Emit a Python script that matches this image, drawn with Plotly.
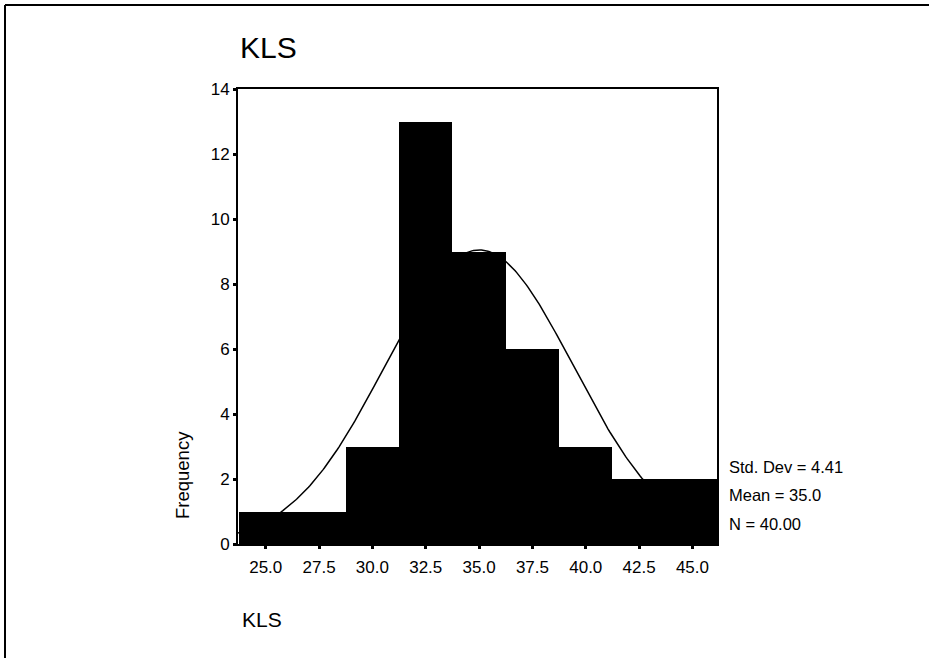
import numpy as np
import plotly.graph_objects as go

# ---- data ----
bin_centers = [25.0, 27.5, 30.0, 32.5, 35.0, 37.5, 40.0, 42.5, 45.0]
frequencies = [1, 1, 3, 13, 9, 6, 3, 2, 2]
bin_width = 2.5
x_tick_vals = [25.0, 27.5, 30.0, 32.5, 35.0, 37.5, 40.0, 42.5, 45.0]
x_tick_text = ["25.0", "27.5", "30.0", "32.5", "35.0", "37.5", "40.0", "42.5", "45.0"]
y_tick_vals = [0, 2, 4, 6, 8, 10, 12, 14]
stat_std = 4.41
stat_mean = 35.0
stat_n = 40
stats_lines = ["Std. Dev = 4.41", "Mean = 35.0", "N = 40.00"]
title_text = "KLS"
x_label = "KLS"
y_label = "Frequency"

FONT = "Arial, 'Liberation Sans', sans-serif"

# fitted normal curve (from displayed mean / sd / N)
xs = np.linspace(23.7, 46.15, 300)
ys = stat_n * bin_width * np.exp(-0.5 * ((xs - stat_mean) / stat_std) ** 2) / (stat_std * np.sqrt(2 * np.pi))

fig = go.Figure()
fig.add_trace(go.Bar(x=bin_centers, y=frequencies, width=bin_width,
                     marker=dict(color="black", line=dict(width=0)),
                     showlegend=False, hoverinfo="x+y"))
fig.add_trace(go.Scatter(x=xs, y=ys, mode="lines",
                         line=dict(color="black", width=1.5),
                         showlegend=False, hoverinfo="skip"))

L, R, T, B = 238, 212, 89, 114
W, H = 929, 658
pw, ph = W - L - R, H - T - B

def px(x):
    return (x - L) / pw

def py(y):
    return (H - B - y) / ph

annotations = [
    dict(text=title_text, x=px(238), y=py(47.5), xref="paper", yref="paper",
         xanchor="left", yanchor="middle", showarrow=False,
         font=dict(family=FONT, size=30, color="black")),
    dict(text=x_label, x=px(240), y=py(619), xref="paper", yref="paper",
         xanchor="left", yanchor="middle", showarrow=False,
         font=dict(family=FONT, size=21, color="black")),
    dict(text=y_label, x=px(182), y=py(475), xref="paper", yref="paper",
         xanchor="center", yanchor="middle", showarrow=False, textangle=-90,
         font=dict(family=FONT, size=18.5, color="black")),
]
for txt, yy in zip(stats_lines, [467, 495, 524]):
    annotations.append(dict(text=txt, x=px(727), y=py(yy), xref="paper", yref="paper",
                            xanchor="left", yanchor="middle", showarrow=False,
                            font=dict(family=FONT, size=16.5, color="black")))

shapes = [
    dict(type="line", xref="paper", yref="paper", x0=px(5), x1=px(960), y0=py(5), y1=py(5),
         line=dict(color="black", width=2)),
    dict(type="line", xref="paper", yref="paper", x0=px(5), x1=px(5), y0=py(5), y1=py(680),
         line=dict(color="black", width=2)),
]

fig.update_layout(
    width=W, height=H,
    margin=dict(l=L, r=R, t=T, b=B, pad=0),
    paper_bgcolor="white", plot_bgcolor="white",
    bargap=0,
    font=dict(family=FONT, size=16, color="black"),
    annotations=annotations,
    shapes=shapes,
    xaxis=dict(range=[23.7, 46.15], tickvals=x_tick_vals, ticktext=x_tick_text,
               showgrid=False, zeroline=False, showline=True, linecolor="black",
               linewidth=2, mirror=True, ticks="outside", ticklen=3, tickwidth=3,
               tickcolor="black", ticklabelstandoff=4,
               tickfont=dict(family=FONT, size=17, color="black")),
    yaxis=dict(range=[0, 14], tickvals=y_tick_vals,
               showgrid=False, zeroline=False, showline=True, linecolor="black",
               linewidth=2, mirror=True, ticks="outside", ticklen=3, tickwidth=3,
               tickcolor="black",
               tickfont=dict(family=FONT, size=17, color="black")),
)

fig.write_html("out.html")
